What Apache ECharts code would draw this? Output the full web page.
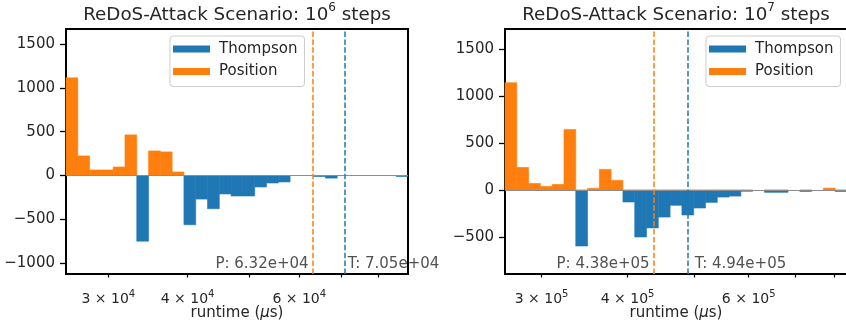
<!DOCTYPE html>
<html><head><meta charset="utf-8">
<script src="https://cdn.jsdelivr.net/npm/echarts@6/dist/echarts.min.js"></script>
<style>html,body{margin:0;padding:0;background:#fff}#c{width:846px;height:324px}</style>
</head><body><div id="c"></div>
<script>
// ---------------- data ----------------
// Panel 1: 10^6 steps — histogram bin edges (runtime, µs), log-spaced
const binEdges6 = [25730, 26855, 28030, 29256, 30536, 31871, 33265, 34720, 36239, 37824,
  39478, 41205, 43007, 44888, 46852, 48901, 51040, 53273, 55603, 58035,
  60573, 63223, 65988, 68874, 71887, 75031, 78313, 81739, 85314, 89046];
const position6 = [1114, 223, 63, 63, 97, 463, 0, 280, 269, 40,
  0, 0, 0, 0, 0, 0, 0, 0, 0, 0, 0, 0, 0, 0, 0, 0, 0, 0, 0];
const thompson6 = [0, 0, 0, 0, 0, 0, -749, 0, 0, 0,
  -562, -269, -379, -211, -234, -234, -131, -86, -74, 0,
  0, -12, -30, 0, 0, 0, 0, 0, -12];
const meanP6 = 63200, meanT6 = 70500;
const xTicks6 = [30000, 40000, 50000, 60000, 70000, 80000];
const xLabels6 = [30000, 40000, 60000];
const yTicks6 = [-1000, -500, 0, 500, 1000, 1500];
const yRange6 = [-1124, 1671];

// Panel 2: 10^7 steps
const binEdges7 = [265460, 276144, 287257, 298818, 310844, 323354, 336368, 349905, 363987, 378636,
  393875, 409727, 426217, 443370, 461214, 479776, 499085, 519171, 540066, 561801,
  584411, 607932, 632399, 657850, 684326, 711867, 740517, 770320, 801322, 833572];
const position7 = [1142, 240, 70, 38, 59, 643, 0, 17, 219, 102,
  0, 0, 0, 0, 0, 0, 0, 0, 0, 0, 0, 0, 0, 0, 0, 0, 0, 20, 0];
const thompson7 = [0, 0, 0, 0, 0, 0, -596, 0, 0, 0,
  -128, -500, -404, -288, -163, -266, -192, -132, -75, -65,
  -14, 0, -25, -25, 0, -16, 0, 0, -16];
const meanP7 = 438000, meanT7 = 494000;
const xTicks7 = [300000, 400000, 500000, 600000, 700000, 800000];
const xLabels7 = [300000, 400000, 600000];
const yTicks7 = [-500, 0, 500, 1000, 1500];
const yRange7 = [-894, 1713];

const stepExps = [6, 7];
const seriesNames = ['Thompson', 'Position'];

// ---------------- styling ----------------
const FONT = 'DejaVu Sans';
const TXT = '#262626';
const BLUE = '#1f77b4', ORANGE = '#ff7f0e';
const lg = v => Math.log10(v);

function binData(edges, vals) {
  const out = [];
  vals.forEach((v, i) => { if (v !== 0) out.push([lg(edges[i]), lg(edges[i + 1]), v]); });
  return out;
}
function renderBar(params, api) {
  const a = api.coord([api.value(0), 0]);
  const b = api.coord([api.value(1), api.value(2)]);
  const c = api.visual('color');
  return {
    type: 'rect',
    shape: { x: a[0], y: Math.min(a[1], b[1]), width: b[0] - a[0], height: Math.abs(b[1] - a[1]) },
    style: { fill: c, stroke: c, lineWidth: 0.6 }
  };
}
function sciLabel(v) {
  const r = Math.pow(10, v);
  const e = Math.floor(Math.log10(r) + 1e-9);
  const m = Math.round(r / Math.pow(10, e));
  return '{m|' + m + ' \u00d7 10}{e|' + e + '}';
}
function meanText(prefix, v) {
  const e = Math.floor(Math.log10(v) + 1e-9);
  const m = (v / Math.pow(10, e)).toFixed(2);
  return prefix + ': ' + m + 'e+' + String(e).padStart(2, '0');
}

const panels = [
  { edges: binEdges6, pos: position6, thom: thompson6, mp: meanP6, mt: meanT6, xt: xTicks6, xl: xLabels6, yt: yTicks6, yr: yRange6, left: 66 },
  { edges: binEdges7, pos: position7, thom: thompson7, mp: meanP7, mt: meanT7, xt: xTicks7, xl: xLabels7, yt: yTicks7, yr: yRange7, left: 505 }
];
const GW = 342, GT = 29, GH = 245;

const option = {
  animation: false,
  backgroundColor: '#fff',
  textStyle: { fontFamily: FONT },
  title: [], grid: [], xAxis: [], yAxis: [], legend: [], series: []
};

panels.forEach((p, k) => {
  option.title.push({
    text: '{t|ReDoS-Attack Scenario: 10}{s|' + stepExps[k] + '}{t| steps}',
    left: p.left + GW / 2, top: 2, textAlign: 'center', padding: 0,
    textStyle: { fontWeight: 'normal', rich: {
      t: { fontFamily: FONT, fontSize: 18.3, fontWeight: 'normal', color: TXT, verticalAlign: 'bottom', lineHeight: 22 },
      s: { fontFamily: FONT, fontSize: 12, fontWeight: 'normal', color: TXT, verticalAlign: 'top', lineHeight: 22 }
    } }
  });
  option.grid.push({ left: p.left, top: GT, width: GW, height: GH, show: true, borderColor: '#000', borderWidth: 2,
    backgroundColor: 'rgba(0,0,0,0)', containLabel: false, outerBoundsMode: 'none' });
  option.xAxis.push({
    type: 'value', gridIndex: k, min: lg(p.edges[0]), max: lg(p.edges[p.edges.length - 1]),
    axisLine: { show: true, onZero: false, lineStyle: { color: '#000', width: 2 } },
    splitLine: { show: false },
    axisTick: { show: true, customValues: p.xt.map(lg), length: 3.5, lineStyle: { color: '#000', width: 1.2 } },
    axisLabel: { customValues: p.xl.map(lg), formatter: sciLabel, margin: 15,
      rich: {
        m: { fontFamily: FONT, fontSize: 14, color: TXT, verticalAlign: 'bottom', lineHeight: 17 },
        e: { fontFamily: FONT, fontSize: 10, color: TXT, verticalAlign: 'top', lineHeight: 17 }
      } },
    name: '{a|runtime (}{i|\u03bc}{a|s)}', nameLocation: 'middle', nameGap: 31.5, nameMoveOverlap: false,
    nameTextStyle: { rich: {
      a: { fontFamily: FONT, fontSize: 15, color: TXT },
      i: { fontFamily: FONT, fontSize: 15, fontStyle: 'italic', color: TXT }
    } }
  });
  option.yAxis.push({
    type: 'value', gridIndex: k, min: p.yr[0], max: p.yr[1],
    axisLine: { show: true, onZero: false, lineStyle: { color: '#000', width: 2 } },
    splitLine: { show: false },
    axisTick: { show: true, customValues: p.yt, length: 6, lineStyle: { color: '#000', width: 1.3 } },
    axisLabel: { customValues: p.yt, margin: 11, fontFamily: FONT, fontSize: 15, color: TXT,
      formatter: v => v < 0 ? '\u2212' + Math.abs(v) : String(v) }
  });
  option.legend.push({
    data: seriesNames, orient: 'vertical',
    left: k === 0 ? 170 : 706, top: 36,
    icon: 'rect', itemWidth: 37, itemHeight: 7, itemGap: 7.5,
    padding: [5.5, 7, 7.5, 3],
    backgroundColor: 'rgba(255,255,255,0.8)', borderColor: '#cccccc', borderWidth: 1, borderRadius: 3,
    textStyle: { fontFamily: FONT, fontSize: 15, color: TXT, lineHeight: 15, padding: [0, 0, 0, 4] },
    selectedMode: false
  });
  option.series.push({
    type: 'custom', name: 'Thompson', xAxisIndex: k, yAxisIndex: k,
    renderItem: renderBar, encode: { x: [0, 1], y: 2 },
    itemStyle: { color: BLUE }, data: binData(p.edges, p.thom), silent: true
  });
  option.series.push({
    type: 'custom', name: 'Position', xAxisIndex: k, yAxisIndex: k,
    renderItem: renderBar, encode: { x: [0, 1], y: 2 },
    itemStyle: { color: ORANGE }, data: binData(p.edges, p.pos), silent: true,
    markLine: {
      silent: true, symbol: 'none', animation: false, label: { show: false },
      data: [
        { yAxis: 0, lineStyle: { color: '#8c8c8c', width: 1, type: 'solid' } },
        { xAxis: lg(p.mp), lineStyle: { color: ORANGE, width: 1.5, type: [5.5, 2.4] } },
        { xAxis: lg(p.mt), lineStyle: { color: BLUE, width: 1.5, type: [5.5, 2.4] } }
      ]
    }
  });
  option.series.push({
    type: 'scatter', name: 'annot' + k, xAxisIndex: k, yAxisIndex: k, symbolSize: 0, clip: false, silent: true,
    itemStyle: { color: 'rgba(0,0,0,0)' },
    data: [
      { value: [lg(p.mp), p.yr[0]], label: { show: true, position: 'left', distance: 5, align: 'right', verticalAlign: 'bottom', offset: [0, -2],
        formatter: meanText('P', p.mp), fontFamily: FONT, fontSize: 15, color: TXT } },
      { value: [lg(p.mt), p.yr[0]], label: { show: true, position: 'right', distance: 4, align: 'left', verticalAlign: 'bottom', offset: [0, -2],
        formatter: meanText('T', p.mt), fontFamily: FONT, fontSize: 15, color: TXT } }
    ]
  });
});

const chart = echarts.init(document.getElementById('c'), null, { renderer: 'canvas' });
chart.setOption(option);
</script>
</body></html>
